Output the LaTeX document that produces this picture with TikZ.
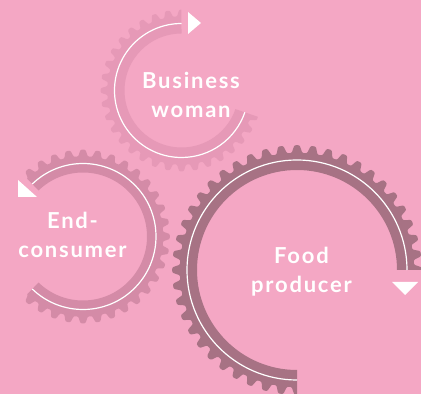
\documentclass[tikz,border=0pt]{standalone}
\usepackage{fontspec}
\setmainfont{Lato}[LetterSpace=8]
\definecolor{bgc}{HTML}{F4A7C4}
\definecolor{topc}{HTML}{E699B7}
\definecolor{endc}{HTML}{D48BA7}
\definecolor{bigc}{HTML}{A77284}
\tikzset{
  whiteline/.style={white, line width=1.2},
  arrowtri/.style={fill=white},
  gearlabel/.style={text=white, align=center, inner sep=0pt,
    font=\fontsize{22}{29}\selectfont\bfseries}
}
\begin{document}
\begin{tikzpicture}[x=1pt,y=1pt]
\useasboundingbox (0,0) rectangle (421,394);
\fill[bgc] (0,0) rectangle (421,394);
% Business woman gear
\begin{scope}[shift={(181.5,303.5)}]
  \fill[topc] (90:57) arc[start angle=90,end angle=341,radius=57]
    -- plot[domain=341:90,samples=401] (\x:{74+7*(0.5+0.5*tanh(2*cos(36*\x)))}) -- cycle;
  \draw[whiteline] (90:67) arc[start angle=90,end angle=341,radius=67];
\end{scope}
\fill[arrowtri] (188,382) -- (188,360) -- (201,371) -- cycle;
\node[gearlabel] (bw) at (191,299) {Business\\woman};
% End-consumer gear
\begin{scope}[shift={(83,157.5)}]
  \fill[endc] (-134:64) arc[start angle=-134,end angle=134,radius=64]
    -- plot[domain=134:-134,samples=431] (\x:{80+7*(0.5+0.5*tanh(2*cos(36*\x)))}) -- cycle;
  \draw[whiteline] (-134:73) arc[start angle=-134,end angle=134,radius=73];
\end{scope}
\fill[arrowtri] (18,214) -- (18,197) -- (37,197) -- cycle;
\node[gearlabel] (ec) at (72.5,159) {End-\\consumer};
% Food producer gear
\begin{scope}[shift={(297,124)}]
  \fill[bigc] (0:100) arc[start angle=0,end angle=270,radius=100]
    -- plot[domain=270:0,samples=577] (\x:{117+8*(0.5+0.5*tanh(2*cos(48*\x)))}) -- cycle;
  \draw[whiteline] (0:110) arc[start angle=0,end angle=270,radius=110];
\end{scope}
\fill[arrowtri] (392,112) -- (418,112) -- (405,99) -- cycle;
\node[gearlabel] (fp) at (301.5,122) {Food\\producer};
\end{tikzpicture}
\end{document}
